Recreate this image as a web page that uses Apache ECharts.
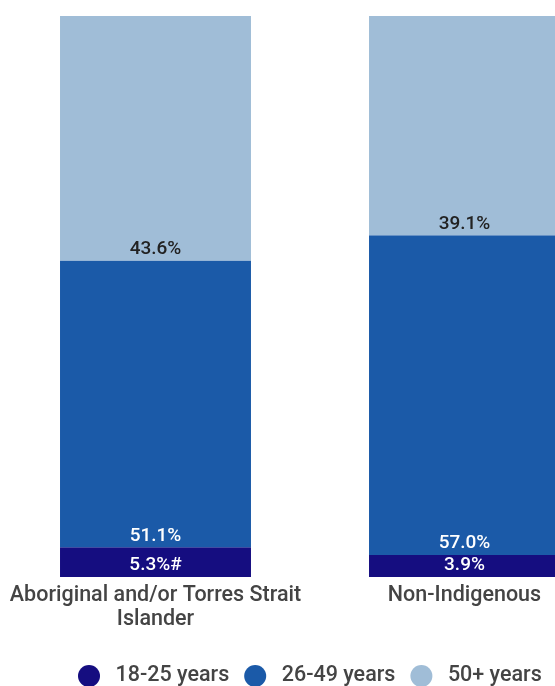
<!DOCTYPE html>
<html><head><meta charset="utf-8">
<script src="https://cdn.jsdelivr.net/npm/echarts@6/dist/echarts.min.js"></script>
<style>html,body{margin:0;padding:0;background:#fff;overflow:hidden}#c{width:555px;height:686px}</style>
</head><body><div id="c"></div>
<script>
const categories = ['Aboriginal and/or Torres Strait\nIslander', 'Non-Indigenous'];
const age18_25 = [5.3, 3.9];
const age26_49 = [51.1, 57.0];
const age50plus = [43.6, 39.1];
const labelSuffix18_25 = ['%#', '%'];
const seriesNames = ['18-25 years', '26-49 years', '50+ years'];
const colors = ['#150d80', '#1b5aa8', '#a0bdd7'];

const chart = echarts.init(document.getElementById('c'), null, {renderer: 'canvas'});
function mk(name, data, color, textColor, suffixes) {
  return {
    name, type: 'bar', stack: 'total', data, barWidth: '61.8%',
    itemStyle: {color},
    label: {
      show: true, position: 'insideBottom', distance: 2,
      color: textColor, fontFamily: 'Roboto', fontSize: 19, fontWeight: 500,
      formatter: p => p.value.toFixed(1) + (suffixes ? suffixes[p.dataIndex] : '%')
    }
  };
}
chart.setOption({
  animation: false,
  color: colors,
  grid: {left: 1, width: 618, top: 16, height: 561, containLabel: false, outerBoundsMode: 'none'},
  xAxis: {
    type: 'category', data: categories,
    axisLine: {show: false}, axisTick: {show: false},
    axisLabel: {color: '#444', fontFamily: 'Roboto', fontSize: 21.5, fontWeight: 500, lineHeight: 24, margin: 7, interval: 0}
  },
  yAxis: {type: 'value', min: 0, max: 100, show: false},
  legend: {
    top: 665, left: 78, padding: 0, icon: 'circle', itemWidth: 43, itemHeight: 22, itemGap: 15,
    textStyle: {color: '#444', fontFamily: 'Roboto', fontSize: 21.5, fontWeight: 500},
    data: seriesNames
  },
  series: [
    mk(seriesNames[0], age18_25, colors[0], '#fff', labelSuffix18_25),
    mk(seriesNames[1], age26_49, colors[1], '#fff'),
    mk(seriesNames[2], age50plus, colors[2], '#222')
  ]
});
</script></body></html>
